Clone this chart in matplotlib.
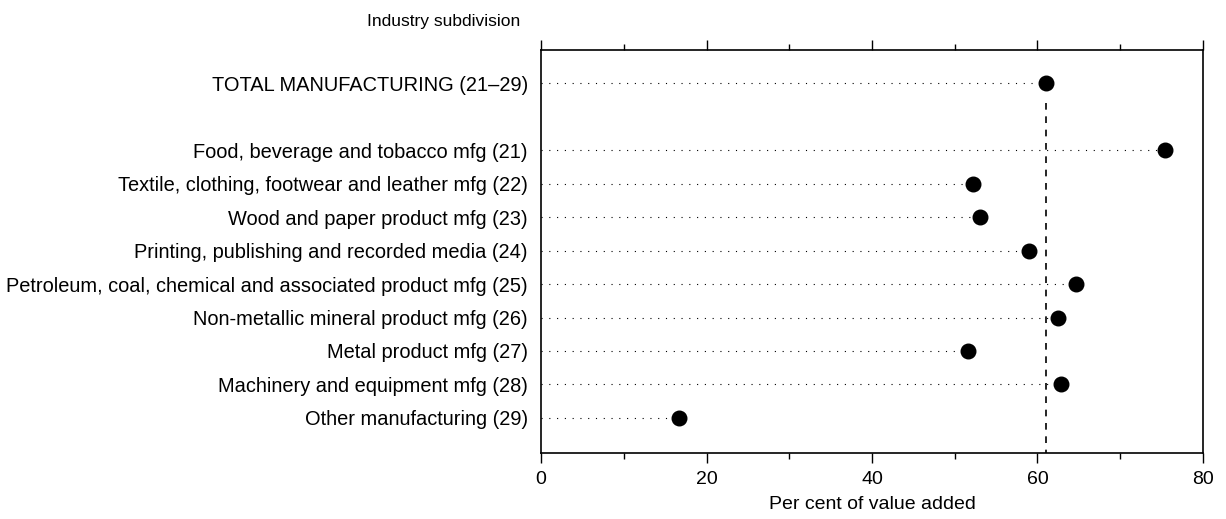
import matplotlib.pyplot as plt

plt.rcParams['font.family'] = ['Liberation Sans', 'DejaVu Sans']

# industry rows, top to bottom (row 1 is left blank under the total)
labels = ['TOTAL MANUFACTURING (21\u201329)',
          'Food, beverage and tobacco mfg (21)',
          'Textile, clothing, footwear and leather mfg (22)',
          'Wood and paper product mfg (23)',
          'Printing, publishing and recorded media (24)',
          'Petroleum, coal, chemical and associated product mfg (25)',
          'Non-metallic mineral product mfg (26)',
          'Metal product mfg (27)',
          'Machinery and equipment mfg (28)',
          'Other manufacturing (29)']
rows = [0, 2, 3, 4, 5, 6, 7, 8, 9, 10]
values = [61.0, 75.4, 52.2, 53.0, 59.0, 64.6, 62.5, 51.6, 62.9, 16.7]
total_value = values[0]

fig = plt.figure(figsize=(12.26, 5.19), dpi=100)
ax = fig.add_axes([0.4413, 0.1272, 0.5399, 0.7765])

# dotted leader lines from zero to each dot
for r, v in zip(rows, values):
    ax.plot([0, v], [r, r], color='black', lw=0.8, linestyle=(0, (1, 6)))

ax.scatter(values, rows, s=110, color='black', zorder=3)

# dashed reference line at the total
ax.plot([total_value, total_value], [0.6, 11.05], color='black', lw=1.2,
        linestyle=(0, (4, 4)))

ax.set_xlim(0, 80)
ax.set_ylim(11.05, -1.0)
ax.set_yticks(rows)
ax.set_yticklabels(labels, fontsize=14.4)
ax.tick_params(axis='y', left=False, pad=6)

ax.set_xticks([0, 20, 40, 60, 80])
ax.set_xticks([10, 30, 50, 70], minor=True)
ax.tick_params(axis='x', which='major', direction='out', length=7, width=1,
               labelsize=14, top=True, pad=6)
ax.tick_params(axis='x', which='minor', direction='out', length=4, width=1,
               top=True)
ax.set_xlabel('Per cent of value added', fontsize=14, labelpad=6)

for s in ax.spines.values():
    s.set_linewidth(1.2)

fig.text(0.424, 0.958, 'Industry subdivision', fontsize=12.5, ha='right', va='center')

fig.savefig('out.png', dpi=100)
